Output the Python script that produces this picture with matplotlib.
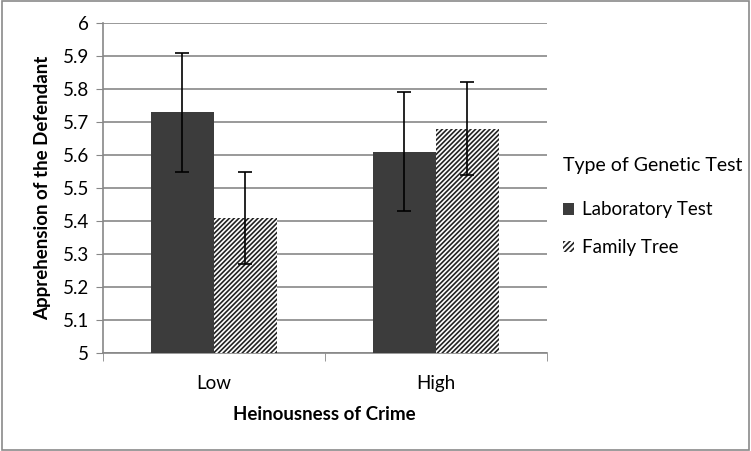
import matplotlib.pyplot as plt
import numpy as np
from matplotlib.patches import Patch

plt.rcParams['font.family'] = ['Lato', 'DejaVu Sans']
plt.rcParams['hatch.linewidth'] = 1.2

categories = ['Low', 'High']
lab_means = [5.73, 5.61]
lab_err = [0.18, 0.18]
family_means = [5.41, 5.68]
family_err = [0.14, 0.14]
series_names = ['Laboratory Test', 'Family Tree']
y_ticks = [5, 5.1, 5.2, 5.3, 5.4, 5.5, 5.6, 5.7, 5.8, 5.9, 6]

fig = plt.figure(figsize=(7.51, 4.51), dpi=100)
ax = fig.add_axes([0.137, 0.217, 0.591, 0.732])

x = np.arange(len(categories))
w = 0.285
grid_col = '#878787'

ax.bar(x - w / 2, lab_means, w, color='#3c3c3c', zorder=3)
ax.bar(x + w / 2, family_means, w, color='white', edgecolor='#222222',
       hatch='///////', linewidth=0, zorder=3)
ax.errorbar(x - w / 2, lab_means, yerr=lab_err, fmt='none', ecolor='black',
            elinewidth=1.2, capsize=5, capthick=1.2, zorder=4)
ax.errorbar(x + w / 2, family_means, yerr=family_err, fmt='none', ecolor='black',
            elinewidth=1.2, capsize=5, capthick=1.2, zorder=4)

ax.set_ylim(5, 6)
ax.set_xlim(-0.5, 1.5)
ax.set_yticks(y_ticks)
ax.set_yticklabels([f'{v:g}' for v in y_ticks], fontsize=13.5)
ax.yaxis.grid(True, color=grid_col, linewidth=1.2, zorder=0)
ax.set_axisbelow(True)

ax.set_xticks(x)
ax.set_xticklabels(categories, fontsize=13.5)
ax.tick_params(axis='x', length=0, pad=16)
ax.set_xticks([-0.5, 0.5, 1.5], minor=True)
ax.tick_params(axis='x', which='minor', length=6, color=grid_col, direction='out')
ax.tick_params(axis='y', length=5, color=grid_col, pad=5)

for side in ['top', 'right']:
    ax.spines[side].set_visible(False)
ax.spines['left'].set_color(grid_col)
ax.spines['bottom'].set_color(grid_col)
ax.spines['left'].set_linewidth(1.2)
ax.spines['bottom'].set_linewidth(1.2)

ax.set_xlabel('Heinousness of Crime', fontsize=13.5, fontweight='bold', labelpad=10)
ax.set_ylabel('Apprehension of the Defendant', fontsize=13.5, fontweight='bold', labelpad=8)

handles = [Patch(facecolor='#3c3c3c', label=series_names[0]),
           Patch(facecolor='white', edgecolor='#222222', hatch='//////',
                 linewidth=0, label=series_names[1])]
leg = fig.legend(handles=handles, title='Type of Genetic Test', loc='upper left',
                 bbox_to_anchor=(0.727, 0.69), frameon=False, fontsize=13.5,
                 title_fontsize=14, handlelength=0.6, handleheight=0.6,
                 handletextpad=0.4, labelspacing=1.1, alignment='left')
leg._legend_box.sep = 20
leg._legend_box.get_children()[1].get_children()[0].set_offset((14, 0))

fig.patches.append(plt.Rectangle((0.002, 0.003), 0.995, 0.994, transform=fig.transFigure,
                                 fill=False, edgecolor='#8a8a8a', linewidth=1.2))

fig.savefig('out.png', dpi=100)
